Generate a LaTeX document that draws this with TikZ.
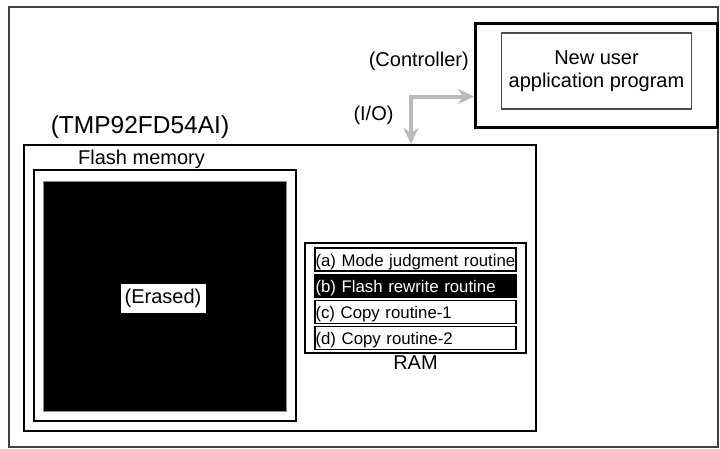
\documentclass[tikz,border=0pt]{standalone}
\usepackage{fontspec}
\setmainfont{Liberation Sans}
\usetikzlibrary{arrows.meta}

\newcommand{\bigtxt}{\fontsize{20}{23.3}\selectfont}
\tikzset{
  box/.style={draw,inner sep=0pt},
  txt/.style={anchor=base,inner sep=0pt,font=\bigtxt},
  routine/.style={draw,line width=1.3pt,minimum width=201pt,minimum height=23pt,
                  text width=200pt,inner xsep=0.5pt,inner ysep=2pt,text height=16pt,
                  text depth=3pt,align=left,font=\fontsize{16.8}{18}\selectfont},
  hot/.style={routine,fill=black,text=white},
  ioarrow/.style={draw=black!27,line width=4pt,
                  {Stealth[length=16pt,width=15pt,inset=5pt]}-{Stealth[length=16pt,width=15pt,inset=5pt]}}
}

\begin{document}
\begin{tikzpicture}[x=1pt,y=-1pt]
\useasboundingbox (0,0) rectangle (720,448);
\draw[line width=1.5pt,black!75] (9,7) rectangle (718,447);

%% controller side
\node[box,line width=3pt,minimum width=242pt,minimum height=104pt] (host) at (596.5,75) {};
\node[box,line width=1.2pt,draw=black!70,minimum width=190pt,minimum height=76pt,
      align=center,font=\bigtxt] (prog) at (596.5,71) {New user\\application program};
\node[txt,anchor=base east] (ctrl) at (469,66.5) {(Controller)};
\node[txt] (io) at (373.5,120) {(I/O)};

%% microcontroller
\node[box,line width=2pt,minimum width=512pt,minimum height=286pt] (chip) at (280,288) {};
\node[txt,font=\fontsize{24.5}{28}\selectfont] (tmp) at (140,133) {(TMP92FD54AI)};
\coordinate (bend) at (411,96.5);
\draw[ioarrow] (bend -| host.west) -- (bend) -- (bend |- chip.north);

%% flash
\node[txt] (flashlbl) at (141.5,164) {Flash memory};
\node[box,line width=2.5pt,minimum width=262pt,minimum height=251pt] (flash) at (165,295.5) {};
\node[box,draw=black!45,line width=0.8pt,fill=black,minimum width=243pt,minimum height=230pt] (cells) at (165,296) {};
\node[box,fill=white,minimum width=86pt,minimum height=30pt,font=\bigtxt] (erased) at (163,298) {(Erased)};

%% ram
\node[box,line width=2pt,minimum width=221pt,minimum height=110pt] (ram) at (415.5,298) {};
\foreach \n/\st/\txt [count=\i from 0] in {ra/routine/{(a) Mode judgment routine},
                                           rb/hot/{(b) Flash rewrite routine},
                                           rc/routine/{(c) Copy routine-1},
                                           rd/routine/{(d) Copy routine-2}}
  \node[\st] (\n) at (415.5,259.5+26.2*\i) {\txt};
\node[txt] (ramlbl) at (415.5,369.3) {RAM};
\end{tikzpicture}
\end{document}
